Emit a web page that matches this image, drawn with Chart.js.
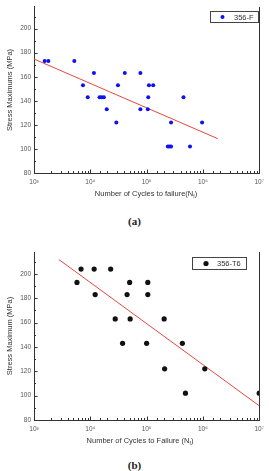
<!DOCTYPE html>
<html>
<head>
<meta charset="utf-8">
<script src="https://cdn.jsdelivr.net/npm/chart.js@4.4.0/dist/chart.umd.min.js"></script>
<style>
    body { margin: 0; background: #fff; width: 269px; height: 471px; overflow: hidden; position: relative; }
    .wrap { position: absolute; left: 0; width: 269px; }
    .cap { position: absolute; left: 0; width: 269px; text-align: center; font: bold 11px "Liberation Serif", serif; color: #222; }
</style>
</head>
<body>
<div class="wrap" style="top:0;height:205px"><canvas id="chartA"></canvas></div>
<div class="cap" style="top:215px">(a)</div>
<div class="wrap" style="top:230px;height:220px"><canvas id="chartB"></canvas></div>
<div class="cap" style="top:459px">(b)</div>
<script>
// 356-F (as cast)
const cyclesF = [1550, 1800, 5200, 7400, 9000, 11600, 14600, 15800, 17400, 19600, 29000, 31000, 41000,
    77500, 77500, 105000, 107000, 110000, 131000, 238000, 254000, 272000, 272000, 452000, 590000, 968000];
const stressF = [173, 173, 173, 153, 143, 163, 143, 143, 143, 133, 122, 153, 163,
    163, 133, 133, 143, 153, 153, 102, 102, 102, 122, 143, 102, 122];
const fitCyclesF = [1000, 1840000];
const fitStressF = [174.7, 108.5];

// 356-T6
const cyclesT6 = [5800, 6850, 11700, 12200, 23000, 27700, 37400, 45000, 50000, 51000, 100000,
    105000, 105000, 205000, 209000, 432000, 490000, 1080000, 10000000];
const stressT6 = [193, 204, 204, 183, 204, 163, 143, 183, 193, 163, 143,
    193, 183, 163, 122, 143, 102, 122, 102];
const fitCyclesT6 = [2770, 10000000];
const fitStressT6 = [211.8, 91.7];

const xTickLabels = { 1000: "10³", 10000: "10⁴", 100000: "10⁵", 1000000: "10⁶", 10000000: "10⁷" };
const yTickLabels = [80, 100, 120, 140, 160, 180, 200];

const FONT = '"Liberation Sans", Arial, sans-serif';

function isDecade(v) {
    const l = Math.log10(v);
    return Math.abs(l - Math.round(l)) < 1e-9;
}

// inward ticks, right frame line, x title with subscript, boxed legend
const framePlugin = {
    id: "frame",
    afterDraw(chart, args, opts) {
        const ctx = chart.ctx;
        const a = chart.chartArea;
        const xs = chart.scales.x;
        const ys = chart.scales.y;
        ctx.save();
        ctx.strokeStyle = "#333";
        ctx.lineWidth = 1;
        ctx.beginPath();
        ctx.moveTo(Math.round(a.right) + 0.5, a.top);
        ctx.lineTo(Math.round(a.right) + 0.5, a.bottom);
        xs.ticks.forEach((t) => {
            const px = Math.round(xs.getPixelForValue(t.value)) + 0.5;
            if (px < a.left || px > a.right + 1) return;
            const len = isDecade(t.value) ? 3.5 : 2;
            ctx.moveTo(px, a.bottom);
            ctx.lineTo(px, a.bottom - len);
        });
        ys.ticks.forEach((t) => {
            if (t.value % 10 !== 0) return;
            const py = Math.round(ys.getPixelForValue(t.value)) + 0.5;
            const len = t.value % 20 === 0 ? 3.5 : 2;
            ctx.moveTo(a.left, py);
            ctx.lineTo(a.left + len, py);
        });
        ctx.stroke();

        // x axis title with subscript f
        ctx.fillStyle = "#333";
        ctx.font = "7.5px " + FONT;
        ctx.textBaseline = "alphabetic";
        const main = opts.xTitle;
        const wMain = ctx.measureText(main).width;
        ctx.font = "5px " + FONT;
        const wSub = ctx.measureText("f").width;
        ctx.font = "7.5px " + FONT;
        const wEnd = ctx.measureText(")").width;
        let tx = opts.xTitleCenter - (wMain + wSub + wEnd) / 2;
        const ty = opts.xTitleY;
        ctx.textAlign = "left";
        ctx.fillText(main, tx, ty);
        tx += wMain;
        ctx.font = "5px " + FONT;
        ctx.fillText("f", tx, ty + 2);
        tx += wSub;
        ctx.font = "7.5px " + FONT;
        ctx.fillText(")", tx, ty);

        // legend box
        const lb = opts.legendBox;
        ctx.strokeStyle = "#444";
        ctx.strokeRect(lb[0] + 0.5, lb[1] + 0.5, lb[2] - lb[0], lb[3] - lb[1]);
        const ds = chart.data.datasets[0];
        ctx.fillStyle = ds.backgroundColor;
        ctx.beginPath();
        ctx.arc(opts.legendMarkX, (lb[1] + lb[3]) / 2 + 0.5, ds.pointRadius, 0, Math.PI * 2);
        ctx.fill();
        ctx.fillStyle = "#333";
        ctx.font = "7.5px " + FONT;
        ctx.textBaseline = "middle";
        ctx.fillText(ds.label, opts.legendTextX, (lb[1] + lb[3]) / 2 + 1);
        ctx.restore();
    },
};

function makeChart(id, cfg) {
    const ctx = document.getElementById(id).getContext("2d");
    return new Chart(ctx, {
        type: "scatter",
        data: {
            datasets: [
                {
                    label: cfg.label,
                    data: cfg.cycles.map((c, i) => ({ x: c, y: cfg.stress[i] })),
                    backgroundColor: cfg.color,
                    borderWidth: 0,
                    pointRadius: cfg.radius,
                },
                {
                    label: "fit",
                    type: "line",
                    data: cfg.fitCycles.map((c, i) => ({ x: c, y: cfg.fitStress[i] })),
                    borderColor: "#e8463f",
                    borderWidth: 1,
                    pointRadius: 0,
                    fill: false,
                },
            ],
        },
        options: {
            responsive: true,
            maintainAspectRatio: false,
            animation: false,
            layout: { padding: { top: cfg.padTop, right: 4, left: 0, bottom: 0 } },
            plugins: {
                legend: { display: false },
                tooltip: { enabled: false },
                frame: {
                    xTitle: cfg.xTitle,
                    xTitleCenter: cfg.xTitleCenter,
                    xTitleY: cfg.xTitleY,
                    legendBox: cfg.legendBox,
                    legendMarkX: cfg.legendMarkX,
                    legendTextX: cfg.legendTextX,
                },
            },
            scales: {
                x: {
                    type: "logarithmic",
                    min: 1000,
                    max: 10000000,
                    grid: { display: false, drawTicks: false },
                    border: { display: true, color: "#333", width: 1 },
                    ticks: {
                        autoSkip: false,
                        maxRotation: 0,
                        padding: 5,
                        color: "#555",
                        font: { family: FONT, size: 6.5 },
                        callback: (v) => xTickLabels[v] || "",
                    },
                    afterFit: (s) => { s.height = cfg.xHeight; },
                },
                y: {
                    min: 80,
                    max: 218,
                    grid: { display: false, drawTicks: false },
                    border: { display: true, color: "#333", width: 1 },
                    ticks: {
                        stepSize: 10,
                        autoSkip: false,
                        padding: 3,
                        color: "#555",
                        font: { family: FONT, size: 6.5 },
                        callback: (v) => (yTickLabels.includes(v) ? v : ""),
                    },
                    title: {
                        display: true,
                        text: cfg.yTitle,
                        color: "#333",
                        padding: { top: 5, bottom: 0 },
                        font: { family: FONT, size: 7.5 },
                    },
                    afterFit: (s) => { s.width = 34; },
                },
            },
        },
        plugins: [framePlugin],
    });
}

makeChart("chartA", {
    label: "356-F",
    cycles: cyclesF,
    stress: stressF,
    fitCycles: fitCyclesF,
    fitStress: fitStressF,
    color: "#1010f0",
    radius: 2,
    padTop: 5,
    xHeight: 32,
    yTitle: "Stress Maximums (MPa)",
    xTitle: "Number of Cycles to failure(N",
    xTitleCenter: 146,
    xTitleY: 196,
    legendBox: [210, 11, 258, 22],
    legendMarkX: 222.5,
    legendTextX: 234,
});

makeChart("chartB", {
    label: "356-T6",
    cycles: cyclesT6,
    stress: stressT6,
    fitCycles: fitCyclesT6,
    fitStress: fitStressT6,
    color: "#111",
    radius: 2.6,
    padTop: 22,
    xHeight: 30,
    yTitle: "Stress Maximum (MPa)",
    xTitle: "Number of Cycles to Failure (N",
    xTitleCenter: 140,
    xTitleY: 213,
    legendBox: [192, 27, 246, 39],
    legendMarkX: 206,
    legendTextX: 217,
});
</script>
</body>
</html>
